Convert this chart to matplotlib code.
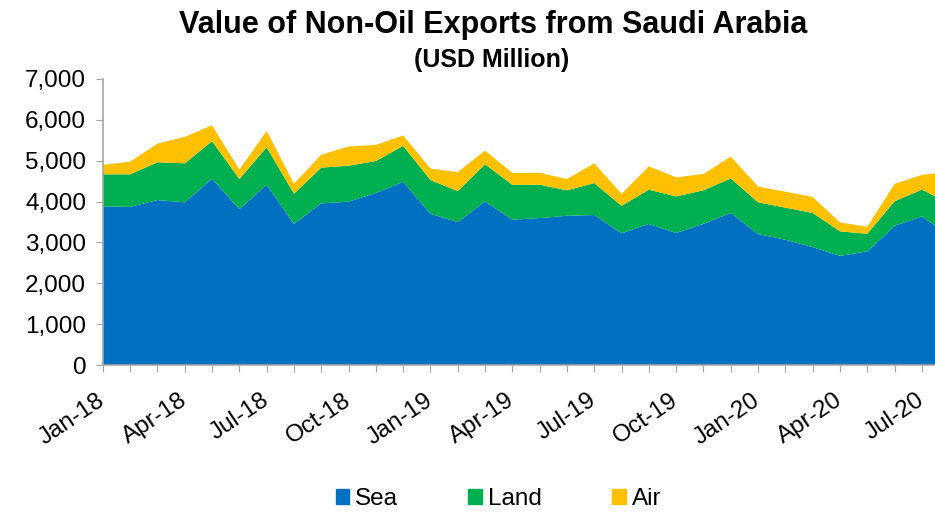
import numpy as np
import matplotlib.pyplot as plt
from matplotlib.ticker import FuncFormatter, MultipleLocator
from matplotlib.patches import Patch

plt.rcParams['font.family'] = ['Liberation Sans', 'DejaVu Sans']

# Monthly data, Jan-18 .. Aug-20 (USD million)
months = ['Jan-18', 'Feb-18', 'Mar-18', 'Apr-18', 'May-18', 'Jun-18', 'Jul-18', 'Aug-18',
          'Sep-18', 'Oct-18', 'Nov-18', 'Dec-18', 'Jan-19', 'Feb-19', 'Mar-19', 'Apr-19',
          'May-19', 'Jun-19', 'Jul-19', 'Aug-19', 'Sep-19', 'Oct-19', 'Nov-19', 'Dec-19',
          'Jan-20', 'Feb-20', 'Mar-20', 'Apr-20', 'May-20', 'Jun-20', 'Jul-20', 'Aug-20']
sea = [3880, 3870, 4035, 3980, 4560, 3815, 4410, 3455, 3955, 3995, 4210, 4485,
       3700, 3495, 4005, 3555, 3595, 3650, 3670, 3225, 3450, 3230, 3455, 3720,
       3205, 3065, 2885, 2670, 2780, 3405, 3635, 3180]
land = [785, 795, 925, 955, 915, 735, 915, 735, 875, 880, 780, 875,
        825, 760, 905, 855, 815, 625, 780, 670, 840, 895, 820, 845,
        775, 785, 835, 600, 430, 600, 655, 770]
air = [230, 310, 455, 645, 390, 230, 400, 245, 315, 470, 395, 255,
       280, 465, 335, 290, 290, 275, 485, 295, 570, 465, 400, 535,
       385, 390, 390, 220, 170, 425, 360, 780]
series_names = ['Sea', 'Land', 'Air']
colors = ['#0070C0', '#00B050', '#FFC000']

x = np.arange(len(months))

fig = plt.figure(figsize=(9.35, 5.12), dpi=100)
ax = fig.add_axes([0.110, 0.287, 0.890, 0.559])
ax.stackplot(x, sea, land, air, colors=colors, linewidth=0)

ax.set_xlim(0, 30.48)
ax.set_ylim(0, 7000)
ax.yaxis.set_major_locator(MultipleLocator(1000))
ax.yaxis.set_major_formatter(FuncFormatter(lambda v, p: f'{int(v):,}'))

ax.set_xticks(x[:31])
ax.set_xticklabels([m if i % 3 == 0 else '' for i, m in enumerate(months[:31])],
                   rotation=34, ha='right', va='center', rotation_mode='anchor',
                   fontsize=17.5)
ax.tick_params(axis='x', length=5, color='#a6a6a6', pad=19)
ax.tick_params(axis='y', length=5, color='#a6a6a6', labelsize=17.5, pad=7)

for s in ['top', 'right']:
    ax.spines[s].set_visible(False)
for s in ['left', 'bottom']:
    ax.spines[s].set_color('#a6a6a6')
    ax.spines[s].set_linewidth(1.2)

fig.text(0.527, 0.952, 'Value of Non-Oil Exports from Saudi Arabia',
         ha='center', va='center', fontsize=22, fontweight='bold')
fig.text(0.526, 0.882, '(USD Million)', ha='center', va='center',
         fontsize=18, fontweight='bold')

handles = [Patch(color=c, label=n) for c, n in zip(colors, series_names)]
fig.legend(handles=handles, loc='center', bbox_to_anchor=(0.533, 0.025), ncol=3,
           frameon=False, fontsize=17.5, handlelength=0.55, handleheight=0.55,
           handletextpad=0.25, columnspacing=2.9)

fig.savefig('out.png', dpi=100)
